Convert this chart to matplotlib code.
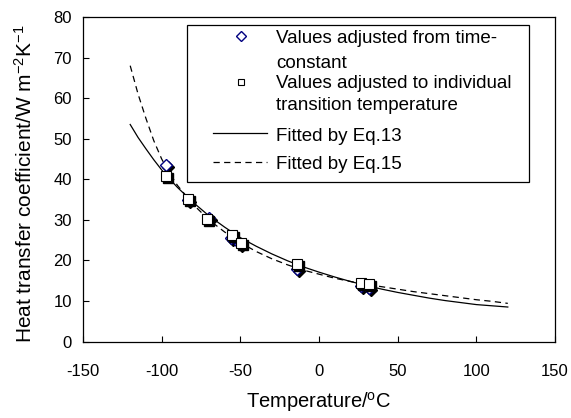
import matplotlib
matplotlib.use("Agg")
import matplotlib.pyplot as plt
import matplotlib.transforms as mtransforms
from matplotlib.lines import Line2D
from matplotlib.patches import Rectangle

plt.rcParams["font.family"] = ["Liberation Sans", "DejaVu Sans"]
plt.rcParams["mathtext.fontset"] = "custom"
plt.rcParams["mathtext.rm"] = "Liberation Sans"
plt.rcParams["mathtext.it"] = "Liberation Sans"
plt.rcParams["axes.unicode_minus"] = False

# measured points
diamond_t = [-97, -83, -70, -56, -50, -14, 27, 32]
diamond_h = [43.5, 35.0, 30.5, 25.5, 24.0, 17.8, 13.8, 13.3]
square_t = [-97, -83, -71, -55.6, -49.8, -13.8, 26.4, 32]
square_h = [40.7, 35.2, 30.2, 26.3, 24.4, 19.0, 14.4, 14.1]

# fitted curves
fit_t = [-120, -115, -110, -105, -100, -95, -90, -80, -70, -60, -50, -40, -30,
         -20, -10, 0, 10, 20, 30, 40, 50, 60, 70, 80, 90, 100, 110, 120]
eq13_h = [53.5, 50.3, 47.5, 44.8, 42.3, 40.1, 38.0, 34.3, 31.0, 28.2, 25.6,
          23.5, 21.6, 19.9, 18.4, 17.1, 15.9, 14.8, 13.8, 12.9, 12.1, 11.4,
          10.7, 10.1, 9.6, 9.1, 8.8, 8.5]
eq15_h = [68.0, 61.0, 55.0, 49.5, 45.0, 41.5, 38.5, 33.8, 30.0, 27.0, 24.4,
          22.2, 20.4, 18.9, 17.6, 16.6, 15.6, 14.8, 14.1, 13.5, 12.9, 12.3,
          11.8, 11.3, 10.8, 10.3, 9.9, 9.4]

x_ticks = [-150, -100, -50, 0, 50, 100, 150]
y_ticks = [0, 10, 20, 30, 40, 50, 60, 70, 80]

W, H = 571, 418
fig = plt.figure(figsize=(W / 100, H / 100), dpi=100)
ax = fig.add_axes([83 / W, 1 - 341.5 / H, 472 / W, 324.5 / H])

ax.plot(fit_t, eq13_h, color="black", lw=0.9, zorder=2)
ax.plot(fit_t, eq15_h, color="black", lw=0.9, dashes=(5, 3.5), zorder=2)

# little drop shadow under each marker
shadow = ax.transData + mtransforms.ScaledTranslation(0.02, -0.02, fig.dpi_scale_trans)
ax.plot(diamond_t, diamond_h, ls="none", marker="D", ms=6, mfc="black", mec="black",
        transform=shadow, zorder=3)
ax.plot(diamond_t, diamond_h, ls="none", marker="D", ms=6, mfc="white", mec="#000080",
        mew=1.0, zorder=4)
ax.plot(square_t, square_h, ls="none", marker="s", ms=7, mfc="black", mec="black",
        transform=shadow, zorder=5)
ax.plot(square_t, square_h, ls="none", marker="s", ms=7, mfc="white", mec="black",
        mew=0.8, zorder=6)

ax.set_xlim(-150, 150)
ax.set_ylim(0, 80)
ax.set_xticks(x_ticks)
ax.set_yticks(y_ticks)
ax.tick_params(axis="both", direction="in", length=4, width=0.8, labelsize=12)
ax.tick_params(axis="x", pad=16)
ax.tick_params(axis="y", pad=8)
for s in ax.spines.values():
    s.set_linewidth(0.9)

fig.text(25 / W, 1 - 184 / H, "Heat transfer coefficient/W m$^{-2}$K$^{-1}$",
         rotation=90, ha="center", va="center", fontsize=15)
fig.text(319 / W, 1 - 408 / H, "Temperature/$^{\\mathrm{o}}$C",
         ha="center", va="baseline", fontsize=14.5)

# legend drawn by hand in pixel positions
def px(x, y):
    return x / W, 1 - y / H

fig.patches.append(Rectangle(px(187, 182), (529 - 187) / W, (182 - 25) / H,
                             transform=fig.transFigure, fill=True, fc="white",
                             ec="black", lw=0.9, zorder=10))
fig.lines.append(Line2D([241 / W], [1 - 36 / H], transform=fig.transFigure, ls="none",
                        marker="D", ms=5.5, mfc="white", mec="#000080", mew=1.0, zorder=11))
fig.lines.append(Line2D([241 / W], [1 - 82 / H], transform=fig.transFigure, ls="none",
                        marker="s", ms=5, mfc="white", mec="black", mew=0.8, zorder=11))
fig.lines.append(Line2D([213 / W, 267 / W], [1 - 133 / H] * 2, transform=fig.transFigure,
                        color="black", lw=0.9, zorder=11))
fig.lines.append(Line2D([213 / W, 267 / W], [1 - 162 / H] * 2, transform=fig.transFigure,
                        color="black", lw=0.9, dashes=(5, 3.5), zorder=11))

legend_lines = [
    ("Values adjusted from time-", 43.3),
    ("constant", 68.3),
    ("Values adjusted to individual", 88.3),
    ("transition temperature", 110),
    ("Fitted by Eq.13", 140.7),
    ("Fitted by Eq.15", 169.3),
]
for txt, base in legend_lines:
    fig.text(276 / W, 1 - base / H, txt, ha="left", va="baseline", fontsize=13.5, zorder=12)

fig.savefig("out.png", dpi=100)
